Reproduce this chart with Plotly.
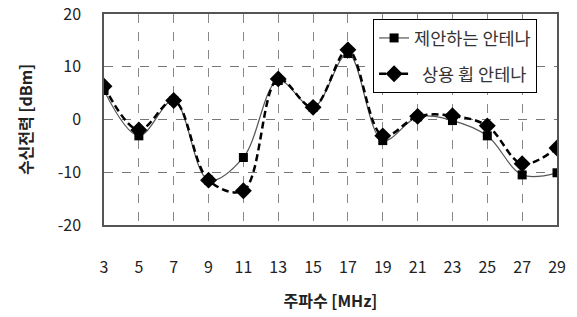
import plotly.graph_objects as go

freq = [3, 5, 7, 9, 11, 13, 15, 17, 19, 21, 23, 25, 27, 29]
proposed = [5.5, -3.1, 3.6, -11.5, -7.2, 7.4, 2.3, 12.5, -4.0, 0.5, -0.2, -3.1, -10.5, -10.1]
whip = [6.3, -2.0, 3.6, -11.5, -13.5, 7.7, 2.3, 13.2, -3.1, 0.6, 0.7, -1.2, -8.4, -5.4]
names = ["제안하는 안테나", "상용 휩 안테나"]
y_ticks = [-20, -10, 0, 10, 20]
y_ticktext = ["-20", "-10", "0", "10", "20"]

FONT = "Noto Sans CJK KR, Noto Sans, sans-serif"

fig = go.Figure()
fig.add_trace(go.Scatter(
    x=freq, y=proposed, name=names[0], mode="lines+markers", legendgroup="a",
    line=dict(color="#555555", width=1.2, shape="spline", smoothing=1),
    marker=dict(symbol="square", size=9, color="black"),
))
fig.add_trace(go.Scatter(
    x=freq, y=whip, name="  " + names[1], mode="lines+markers", legendgroup="b",
    line=dict(color="black", width=2.5, dash="7px,4px", shape="spline", smoothing=1),
    marker=dict(symbol="diamond", size=13, color="black"),
))

fig.update_layout(
    width=577, height=317,
    margin=dict(l=104, r=20, t=14, b=92),
    paper_bgcolor="white", plot_bgcolor="white",
    font=dict(family=FONT, size=15, color="#222222"),
    showlegend=True,
    legend=dict(
        x=0.594, y=0.976, xanchor="left", yanchor="top",
        bordercolor="black", borderwidth=1, bgcolor="white",
        font=dict(size=17.5, color="#333333"),
        tracegroupgap=10,
    ),
    xaxis=dict(
        range=[3, 29], tick0=3, dtick=2, tickmode="linear",
        showgrid=True, gridcolor="#888888", griddash="dash", gridwidth=1,
        showline=True, linecolor="#555555", linewidth=1.5, mirror=True,
        ticks="", zeroline=False, automargin=False,
        tickfont=dict(size=16, color="#222222"),
        ticklabelstandoff=27,
        title=dict(text="<b>주파수 [MHz]</b>", font=dict(size=16, color="#222222"), standoff=19),
    ),
    yaxis=dict(
        range=[-20, 20], tickmode="array", tickvals=y_ticks, ticktext=y_ticktext,
        showgrid=True, gridcolor="#777777", griddash="dash", gridwidth=1,
        showline=True, linecolor="#555555", linewidth=1.5, mirror=True,
        ticks="", zeroline=False, automargin=False,
        tickfont=dict(size=16, color="#222222"),
        ticklabelstandoff=18,
        title=dict(text="<b>수신전력 [dBm]</b>", font=dict(size=16, color="#222222"), standoff=21),
    ),
)

fig.write_html("out.html", config={"displayModeBar": False},
               post_script="document.body.style.margin='0';")
